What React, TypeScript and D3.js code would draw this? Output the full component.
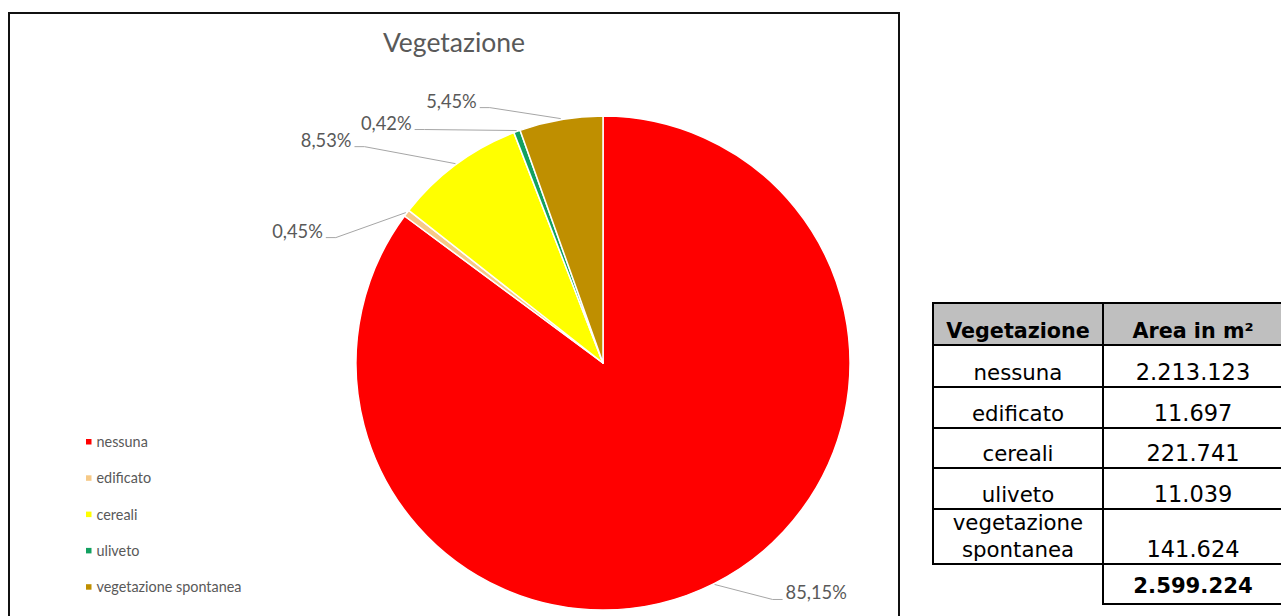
import React from 'react';
import * as d3 from 'd3';

// ---- data ----
const chartTitle = 'Vegetazione';
const categories = ['nessuna', 'edificato', 'cereali', 'uliveto', 'vegetazione spontanea'];
const areas = [2213123, 11697, 221741, 11039, 141624];
const colors = ['#FF0000', '#F6C987', '#FFFF00', '#12A060', '#BF8F00'];
const tableHeaders = ['Vegetazione', 'Area in m²'];
const tableCategoryLines = [['nessuna'], ['edificato'], ['cereali'], ['uliveto'], ['vegetazione', 'spontanea']];

// ---- layout ----
const W = 1281;
const H = 616;
const frame = { x: 9, y: 13, w: 890, h: 620 };
const cx = 603;
const cy = 363;
const R = 247;
// offset from arc point to the label end of each leader line
const labelOffsets: [number, number][] = [[68, 15], [-80, 25], [-101, -17], [-102, -1], [-81, -11]];
const legend = { x: 86, y: 442, step: 36.3 };
const table = {
  x0: 933, x1: 1103, x2: 1283,
  rowsY: [303, 345, 387, 428, 468, 509, 564, 604],
};

const itLocale = d3.formatLocale({ decimal: ',', thousands: '.', grouping: [3], currency: ['€', ''] });
const fmtInt = itLocale.format(',d');
const fmtPct = itLocale.format('.2%');

const grey = '#595959';
const chartFont = 'Lato, "Open Sans", sans-serif';
const tableFont = '"DejaVu Sans", Verdana, sans-serif';

export default function App() {
  const total = d3.sum(areas);
  const pie = d3.pie<number>().sort(null).value((d) => d).startAngle(0).endAngle(2 * Math.PI);
  const arcs = pie(areas);
  const arcGen = d3.arc<d3.PieArcDatum<number>>().innerRadius(0).outerRadius(R);

  const pt = (a: number, r: number) => [cx + r * Math.sin(a), cy - r * Math.cos(a)];

  const rowYs = table.rowsY;

  return (
    <svg width={W} height={H} style={{ position: 'absolute', left: 0, top: 0, background: '#fff' }}>
      <rect x={0} y={0} width={W} height={H} fill="#fff" />
      {/* chart frame */}
      <rect x={frame.x} y={frame.y} width={frame.w} height={frame.h} fill="#fff" stroke="#111" strokeWidth={2} />
      <text x={frame.x + frame.w / 2} y={52} textAnchor="middle" fontFamily={chartFont} fontSize={26.5} fill={grey}>
        {chartTitle}
      </text>

      {/* pie */}
      <g transform={`translate(${cx},${cy})`}>
        {arcs.map((a, i) => (
          <path key={i} d={arcGen(a) || ''} fill={colors[i]} stroke="#fff" strokeWidth={1.5} strokeLinejoin="round" />
        ))}
      </g>

      {/* leader lines and labels */}
      {arcs.map((a, i) => {
        const mid = (a.startAngle + a.endAngle) / 2;
        const [sx, sy] = pt(mid, R + 1);
        const [dx, dy] = labelOffsets[i];
        const ex = sx + dx;
        const ey = sy + dy;
        const right = dx > 0;
        const elbowX = right ? ex - 10 : ex + 10;
        return (
          <g key={i}>
            <polyline points={`${sx},${sy} ${elbowX},${ey} ${ex},${ey}`} fill="none" stroke="#A6A6A6" strokeWidth={1} />
            <text x={right ? ex + 3 : ex - 3} y={ey} textAnchor={right ? 'start' : 'end'} fontFamily={chartFont} fontSize={18.3} fill={grey}>
              {fmtPct(areas[i] / total)}
            </text>
          </g>
        );
      })}

      {/* legend */}
      {categories.map((c, i) => (
        <g key={c} transform={`translate(${legend.x},${legend.y + i * legend.step})`}>
          <rect x={0} y={-3} width={5.5} height={5.5} fill={colors[i]} />
          <text x={10.5} y={5} fontFamily={chartFont} fontSize={14.4} fill={grey}>{c}</text>
        </g>
      ))}

      {/* table */}
      <g fontFamily={tableFont} fill="#000">
        <rect x={table.x0} y={rowYs[0]} width={table.x2 - table.x0} height={rowYs[1] - rowYs[0]} fill="#BFBFBF" />
        {/* horizontal lines */}
        {rowYs.slice(0, 7).map((y, i) => (
          <line key={'h' + i} x1={table.x0} x2={table.x2} y1={y} y2={y} stroke="#000" strokeWidth={2} />
        ))}
        <line x1={table.x1} x2={table.x2} y1={rowYs[7]} y2={rowYs[7]} stroke="#000" strokeWidth={2} />
        {/* vertical lines */}
        <line x1={table.x0} x2={table.x0} y1={rowYs[0] - 1} y2={rowYs[6] + 1} stroke="#000" strokeWidth={2} />
        <line x1={table.x1} x2={table.x1} y1={rowYs[0] - 1} y2={rowYs[7] + 1} stroke="#000" strokeWidth={2} />
        <line x1={table.x2} x2={table.x2} y1={rowYs[0] - 1} y2={rowYs[7] + 1} stroke="#000" strokeWidth={2} />

        <text x={(table.x0 + table.x1) / 2} y={rowYs[1] - 7} textAnchor="middle" fontWeight="bold" fontSize={20.7}>{tableHeaders[0]}</text>
        <text x={(table.x1 + table.x2) / 2} y={rowYs[1] - 7} textAnchor="middle" fontWeight="bold" fontSize={20.7}>{tableHeaders[1]}</text>

        {tableCategoryLines.map((lines, i) => {
          const bottom = rowYs[i + 2];
          return (
            <g key={'r' + i}>
              {lines.map((ln, j) => (
                <text key={j} x={(table.x0 + table.x1) / 2} y={bottom - 7 - (lines.length - 1 - j) * 27} textAnchor="middle" fontSize={21.3}>{ln}</text>
              ))}
              <text x={(table.x1 + table.x2) / 2} y={bottom - 7} textAnchor="middle" fontSize={22.5}>{fmtInt(areas[i])}</text>
            </g>
          );
        })}
        <text x={(table.x1 + table.x2) / 2} y={rowYs[7] - 11} textAnchor="middle" fontWeight="bold" fontSize={21.2}>{fmtInt(total)}</text>
      </g>
    </svg>
  );
}
